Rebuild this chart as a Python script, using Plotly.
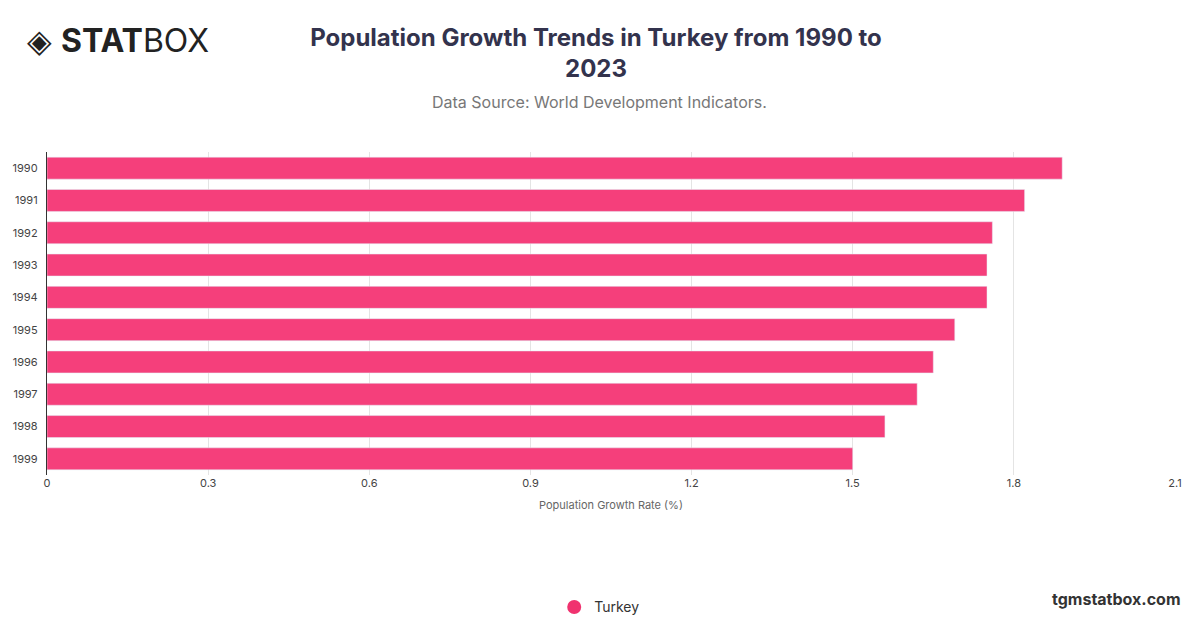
import plotly.graph_objects as go

years = ["1990", "1991", "1992", "1993", "1994", "1995", "1996", "1997", "1998", "1999"]
growth = [1.89, 1.82, 1.76, 1.75, 1.75, 1.69, 1.65, 1.62, 1.56, 1.50]
x_ticks = [0, 0.3, 0.6, 0.9, 1.2, 1.5, 1.8, 2.1]

fig = go.Figure()
fig.add_trace(
    go.Bar(
        x=growth,
        y=years,
        orientation="h",
        name="Turkey",
        marker={"color": "#f53f7b"},
        width=0.68,
        showlegend=False,
    )
)
# legend marker
fig.add_trace(
    go.Scatter(
        x=[None], y=[None], mode="markers", name="Turkey",
        marker={"size": 14, "color": "#f0326f"},
    )
)

fig.update_layout(
    width=1200,
    height=628,
    plot_bgcolor="white",
    paper_bgcolor="white",
    font={"family": "Inter, Roboto, sans-serif", "color": "#555"},
    margin={"l": 39, "r": 33, "t": 144, "b": 148},
    title={
        "text": "<b>Population Growth Trends in Turkey from 1990 to<br>2023</b>",
        "x": 0.49, "xanchor": "center", "y": 0.94, "yanchor": "top",
        "font": {"size": 24, "color": "#33334d"},
    },
    xaxis={
        "range": [0, 2.1],
        "tickvals": x_ticks,
        "ticktext": [str(v) if v else "0" for v in x_ticks],
        "showgrid": True,
        "gridcolor": "#e4e4e4",
        "zeroline": False,
        "automargin": False,
        "tickfont": {"size": 11, "color": "#444"},
        "title": {"text": "Population Growth Rate (%)", "font": {"size": 11, "color": "#666"}, "standoff": 12},
    },
    yaxis={
        "autorange": "reversed",
        "showline": True,
        "linecolor": "#333",
        "automargin": False,
        "tickfont": {"size": 11, "color": "#444"},
        "ticksuffix": "  ",
    },
    bargap=0.32,
    legend={"orientation": "h", "x": 0.49, "xanchor": "center", "y": -0.41, "yanchor": "middle",
            "font": {"size": 14, "color": "#333"}},
    annotations=[
        {"text": "Data Source: World Development Indicators.", "x": 0.49, "y": 1.0, "xref": "paper",
         "yref": "paper", "xanchor": "center", "yanchor": "middle", "yshift": 50,
         "showarrow": False, "font": {"size": 16, "color": "#777"}},
        {"text": "◈ <b>STAT</b>BOX", "x": 0.0, "y": 1.0, "xref": "paper", "yref": "paper",
         "xanchor": "left", "yanchor": "middle", "yshift": 112, "xshift": -22,
         "showarrow": False, "font": {"size": 32, "color": "#222"}},
        {"text": "<b>tgmstatbox.com</b>", "x": 1.0, "y": -0.41, "xref": "paper", "yref": "paper",
         "xanchor": "right", "yanchor": "middle", "yshift": 8, "xshift": 8,
         "showarrow": False, "font": {"size": 16, "color": "#333"}},
    ],
)

fig.write_html("out.html")
